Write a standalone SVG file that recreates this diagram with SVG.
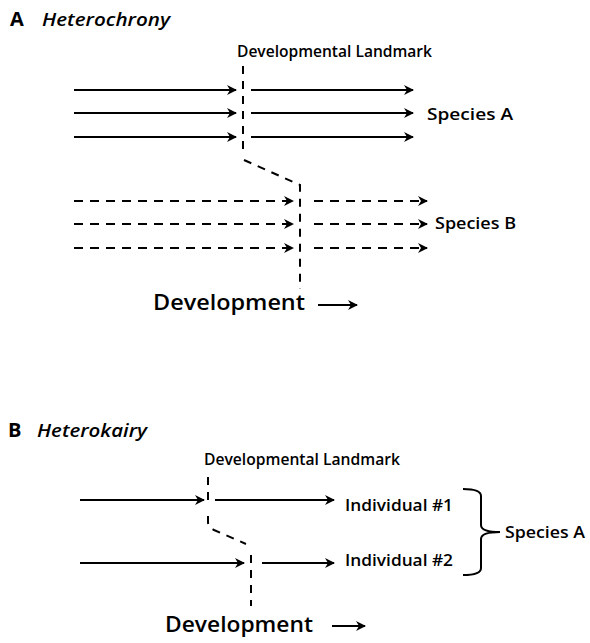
<svg xmlns="http://www.w3.org/2000/svg" width="590" height="643" viewBox="0 0 590 643">
<style>
text{font-family:"Open Sans","Liberation Sans",sans-serif;fill:#000;font-weight:600;}
.lbl{font-size:16px;}
.head{font-size:18px;font-style:italic;}
.letter{font-size:20px;font-weight:700;}
.dev{font-size:22px;}
.sol{stroke:#000;stroke-width:2;fill:none;}
.dsh{stroke:#000;stroke-width:2;fill:none;stroke-dasharray:9 7;}
.lm{stroke:#000;stroke-width:2;fill:none;stroke-dasharray:8 7;}
</style>
<defs>
<marker id="ah" viewBox="0 0 10 10" refX="9" refY="5" markerWidth="10" markerHeight="10" markerUnits="userSpaceOnUse" orient="auto">
<path d="M0,0 L10,5 L0,10 L3,5 Z" fill="#000"/>
</marker>
</defs>
<rect width="590" height="643" fill="#fff"/>
<g id="titleA">
<text x="10" y="26" class="letter">A</text>
<text x="42" y="26" class="head" textLength="128" lengthAdjust="spacingAndGlyphs">Heterochrony</text>
</g>
<g id="landmarkA">
<text x="237" y="57" class="lbl" textLength="195" lengthAdjust="spacingAndGlyphs">Developmental Landmark</text>
<path class="lm" d="M243,66 V152 M244,160 L300,185 V289"/>
</g>
<g id="speciesA">
<text x="427" y="120" class="lbl" textLength="86" lengthAdjust="spacingAndGlyphs">Species A</text>
</g>
<g id="speciesB">
<text x="435" y="229" class="lbl" textLength="81" lengthAdjust="spacingAndGlyphs">Species B</text>
</g>
<g id="devA">
<text x="153" y="310" class="dev" textLength="152" lengthAdjust="spacingAndGlyphs">Development</text>
<line class="sol" x1="318" y1="305" x2="357" y2="305" marker-end="url(#ah)"/>
</g>
<g id="connectorsA">
<line class="sol" x1="74" y1="90" x2="236" y2="90" marker-end="url(#ah)"/>
<line class="sol" x1="74" y1="113" x2="236" y2="113" marker-end="url(#ah)"/>
<line class="sol" x1="74" y1="137" x2="236" y2="137" marker-end="url(#ah)"/>
<line class="sol" x1="251" y1="90" x2="413" y2="90" marker-end="url(#ah)"/>
<line class="sol" x1="251" y1="113" x2="413" y2="113" marker-end="url(#ah)"/>
<line class="sol" x1="251" y1="137" x2="413" y2="137" marker-end="url(#ah)"/>
<line class="dsh" x1="74" y1="201" x2="293" y2="201" marker-end="url(#ah)"/>
<line class="dsh" x1="74" y1="224" x2="293" y2="224" marker-end="url(#ah)"/>
<line class="dsh" x1="74" y1="248" x2="293" y2="248" marker-end="url(#ah)"/>
<line class="dsh" x1="314" y1="201" x2="427" y2="201" marker-end="url(#ah)"/>
<line class="dsh" x1="314" y1="224" x2="427" y2="224" marker-end="url(#ah)"/>
<line class="dsh" x1="314" y1="248" x2="427" y2="248" marker-end="url(#ah)"/>
</g>
<g id="titleB">
<text x="8" y="437" class="letter">B</text>
<text x="37" y="437" class="head" textLength="110" lengthAdjust="spacingAndGlyphs">Heterokairy</text>
</g>
<g id="landmarkB">
<text x="204" y="465" class="lbl" textLength="196" lengthAdjust="spacingAndGlyphs">Developmental Landmark</text>
<path class="lm" d="M208,477 V507 M208,516 V522 Q208,527 214,530 L246,544 M251,555 V606"/>
</g>
<g id="ind1">
<text x="345" y="511" class="lbl" textLength="108" lengthAdjust="spacingAndGlyphs">Individual #1</text>
</g>
<g id="ind2">
<text x="345" y="566" class="lbl" textLength="108" lengthAdjust="spacingAndGlyphs">Individual #2</text>
</g>
<g id="speciesA2">
<text x="505" y="538" class="lbl" textLength="80" lengthAdjust="spacingAndGlyphs">Species A</text>
<path class="sol" d="M463,489 Q481,489 481,496 V525 Q481,532 500,532 Q481,532 481,539 V568 Q481,575 463,575"/>
</g>
<g id="devB">
<text x="165" y="632" class="dev" textLength="148" lengthAdjust="spacingAndGlyphs">Development</text>
<line class="sol" x1="332" y1="626" x2="365" y2="626" marker-end="url(#ah)"/>
</g>
<g id="connectorsB">
<line class="sol" x1="80" y1="500" x2="204" y2="500" marker-end="url(#ah)"/>
<line class="sol" x1="215" y1="500" x2="334" y2="500" marker-end="url(#ah)"/>
<line class="sol" x1="80" y1="563" x2="244" y2="563" marker-end="url(#ah)"/>
<line class="sol" x1="262" y1="563" x2="334" y2="563" marker-end="url(#ah)"/>
</g>
</svg>
